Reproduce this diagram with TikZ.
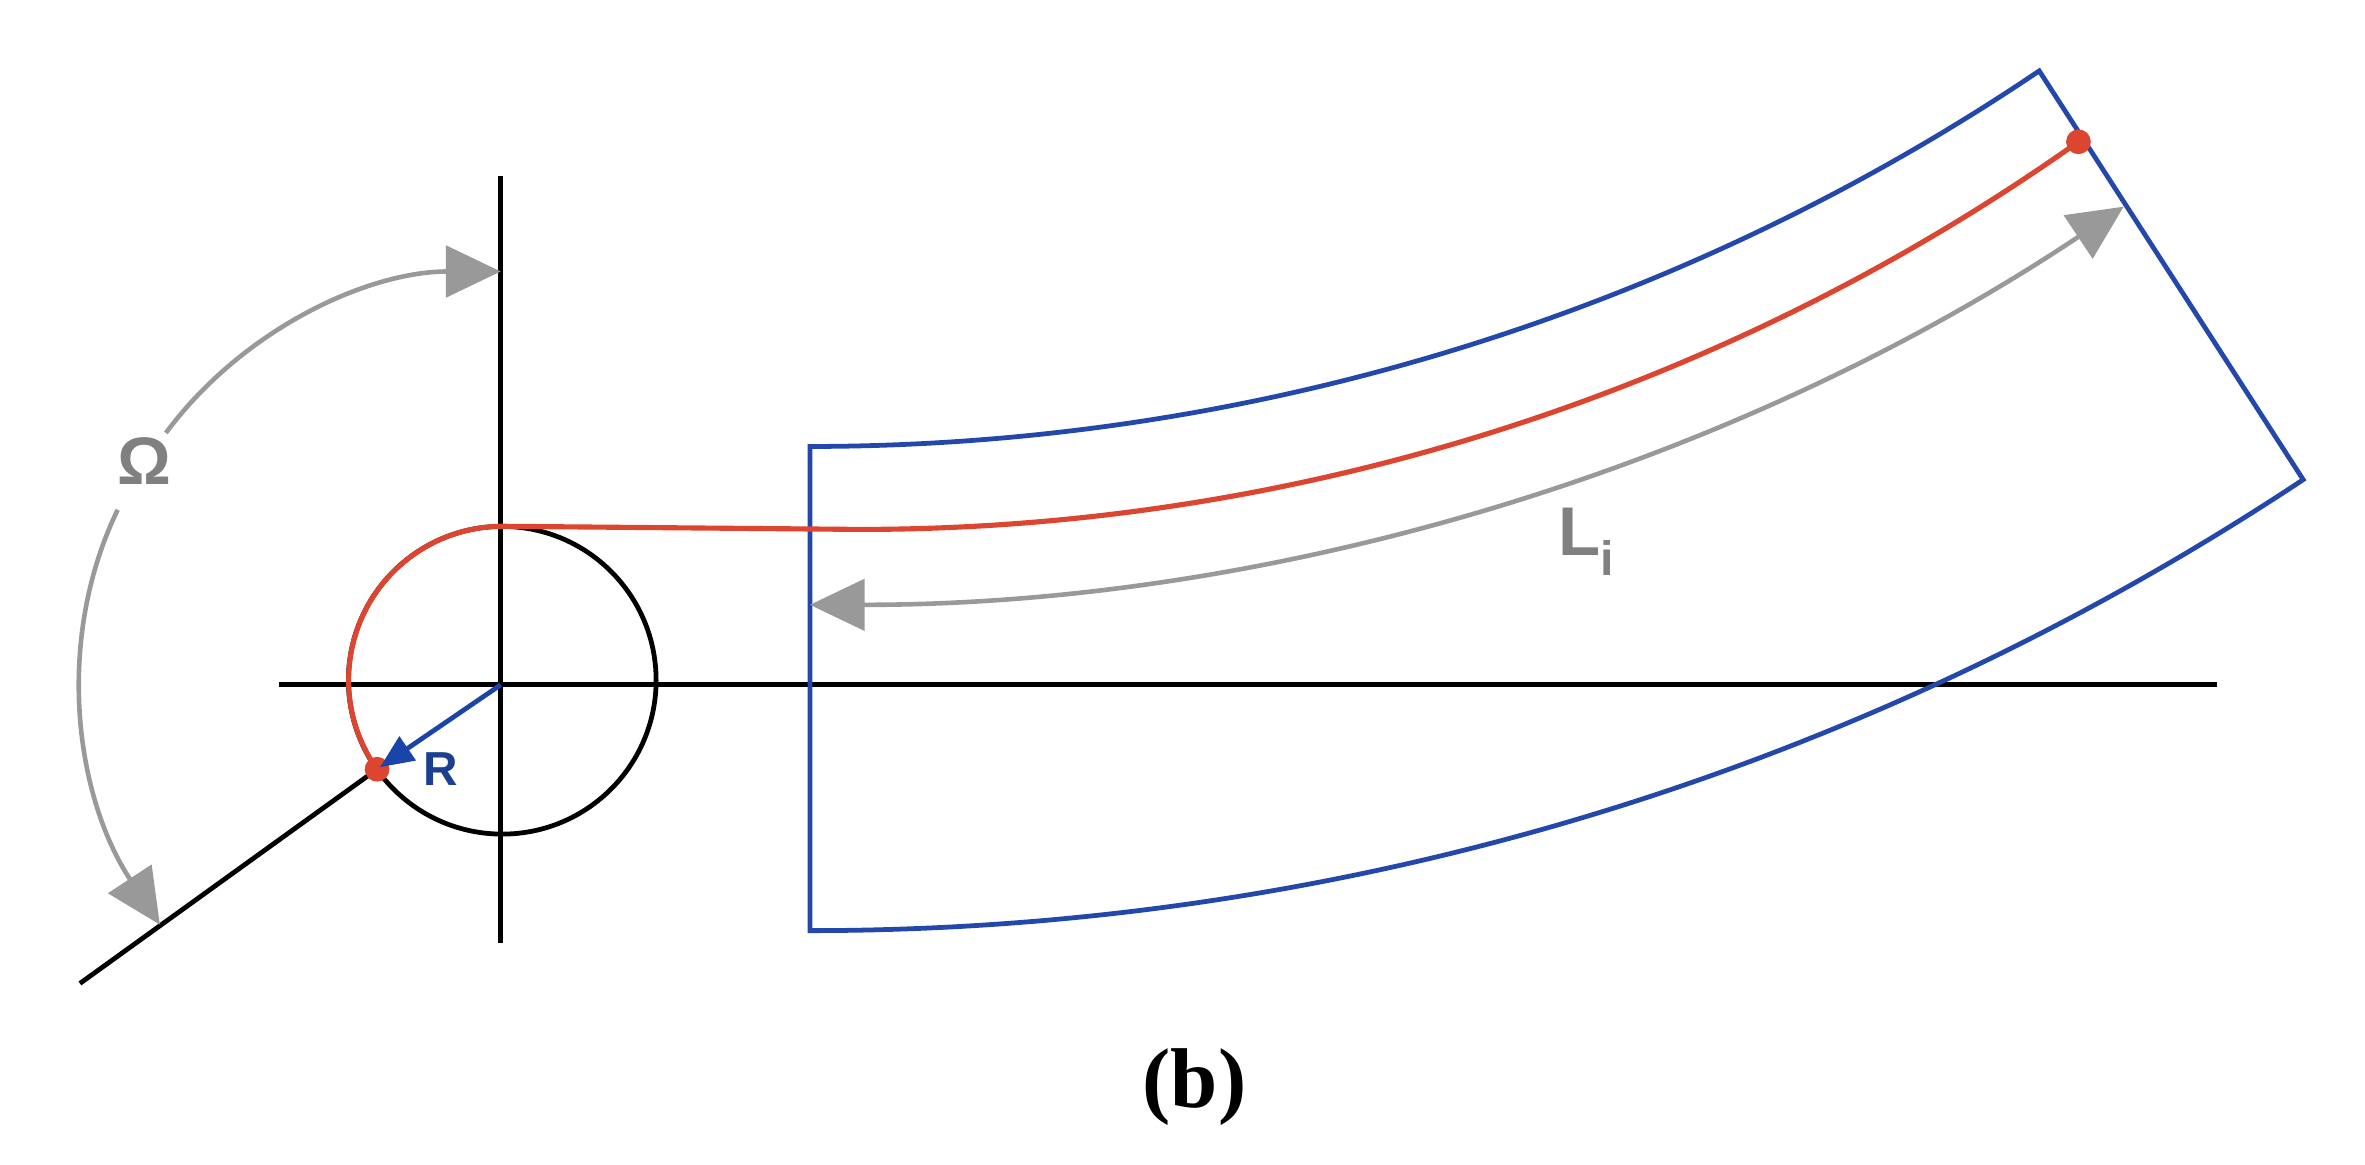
\documentclass[tikz,border=0pt]{standalone}
\usepackage{fontspec}
\setmainfont{Liberation Serif}
\setsansfont{Liberation Sans}
\usetikzlibrary{arrows.meta}
\definecolor{dimgray}{HTML}{999999}
\definecolor{labelgray}{HTML}{808080}
\definecolor{outlineblue}{HTML}{2447AB}
\definecolor{radiusblue}{HTML}{1A44A8}
\definecolor{labelblue}{HTML}{1C3F8F}
\definecolor{pathred}{HTML}{DC4530}
\tikzstyle{axis} = [black, line width=2.7pt]
\tikzstyle{outline} = [outlineblue, line width=2.7pt, line join=miter]
\tikzstyle{fibre} = [pathred, line width=2.9pt]
\tikzstyle{dimension} = [dimgray, line width=2.6pt, arrows={-Triangle[length=31pt, width=29pt]}]
\tikzstyle{dimensionboth} = [dimgray, line width=2.6pt, arrows={Triangle[length=31pt, width=29pt]-Triangle[length=31pt, width=29pt]}]
\tikzstyle{radiusarrow} = [radiusblue, line width=2.7pt, shorten >=2pt, arrows={-Triangle[length=19pt, width=16pt]}]
\tikzstyle{dot} = [circle, fill=pathred, inner sep=0pt, minimum size=14pt]
\tikzstyle{txt} = [inner sep=0pt, font=\sffamily\bfseries]

\begin{document}
\begin{tikzpicture}[x=0.03cm, y=-0.03cm]
        \useasboundingbox (0, 0) rectangle (1568, 772);

        \coordinate (o) at (332, 454);
        \coordinate (ytop) at (332, 117);
        \coordinate (ybot) at (332, 625);
        \coordinate (xleft) at (185, 454);
        \coordinate (xright) at (1470, 454);
        \coordinate (rayend) at (53, 652);

        \coordinate (a1) at (537, 296);
        \coordinate (a2) at (1352, 47);
        \coordinate (a3) at (1527, 318);
        \coordinate (a4) at (537, 617);

        \coordinate (f0) at (250, 510);
        \coordinate (f2) at (570, 351);
        \coordinate (f3) at (1378, 94);

        \coordinate (l1) at (537, 401);
        \coordinate (l2) at (1408, 137);

        \coordinate (w1) at (110, 287);
        \coordinate (w2) at (332, 180);
        \coordinate (w3) at (78, 338);
        \coordinate (w4) at (106, 613);

        \node [draw, axis, circle, inner sep=0pt, minimum size=6.12cm] (drum) at (333, 451) {};

        \node [txt, labelgray, font=\sffamily\bfseries\fontsize{38}{38}\selectfont] (omega) at (96, 306) {Ω};
        \node [txt, labelgray, font=\sffamily\bfseries\fontsize{39}{39}\selectfont] (li) at (1052, 359) {L\textsubscript{i}};
        \node [txt, labelblue, font=\sffamily\bfseries\fontsize{27}{27}\selectfont] (rlabel) at (292, 510) {R};
        \node [inner sep=0pt, font=\bfseries\fontsize{48}{48}\selectfont] (caption) at (792, 721) {(b)};

        % axes
        \draw [axis] (ytop) -- (ybot);
        \draw [axis] (xleft) -- (xright);
        \draw [axis] (rayend) -- (f0);

        % strip
        \draw [outline] (a1) -- (a4) .. controls (890, 617) and (1233, 513) .. (a3)
            -- (a2) .. controls (1112, 209) and (827, 296) .. cycle;

        % wrapped path
        \draw [fibre] (f0) arc [start angle=215.4, end angle=90, radius=3.06cm] -- (f2)
            .. controls (859, 351) and (1142, 261) .. (f3);
        \node [dot] (rdot) at (f0) {};
        \node [dot] (edot) at (f3) {};

        % dimensions
        \draw [radiusarrow] (o) -- (rdot.center);
        \draw [dimension] (w1) .. controls (162, 217) and (245, 180) .. (w2);
        \draw [dimension] (w3) .. controls (36, 425) and (50, 528) .. (w4);
        \draw [dimensionboth] (l1) .. controls (847, 401) and (1150, 309) .. (l2);
    \end{tikzpicture}
\end{document}
